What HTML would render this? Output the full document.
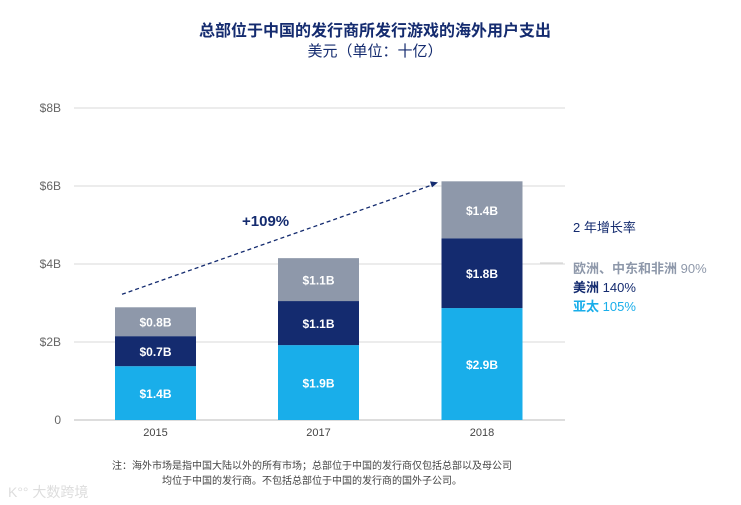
<!DOCTYPE html>
<html><head><meta charset="utf-8"><style>
body{margin:0;background:#fff;font-family:"Liberation Sans","Noto Sans CJK SC",sans-serif;}
#wrap{position:relative;width:741px;height:505px;overflow:hidden;}
</style></head><body>
<div id="wrap">
<svg id="chart" width="741" height="505" xmlns="http://www.w3.org/2000/svg">
<text x="375" y="36" text-anchor="middle" font-size="16" font-weight="bold" fill="#142b6f" font-family="Liberation Sans, Noto Sans CJK SC, sans-serif">总部位于中国的发行商所发行游戏的海外用户支出</text>
<text x="375" y="56" text-anchor="middle" font-size="15" fill="#142b6f" font-family="Liberation Sans, Noto Sans CJK SC, sans-serif">美元（单位：十亿）</text>
<text x="242" y="226" font-size="15" font-weight="bold" fill="#142b6f">+109%</text>
<text x="573" y="232" font-size="13" fill="#142b6f" font-family="Liberation Sans, Noto Sans CJK SC, sans-serif">2 年增长率</text>
<text x="573" y="273" font-size="13" font-family="Liberation Sans, Noto Sans CJK SC, sans-serif"><tspan font-weight="bold" fill="#8e98aa">欧洲、中东和非洲</tspan><tspan fill="#8e98aa"> 90%</tspan></text>
<text x="573" y="292" font-size="13" font-family="Liberation Sans, Noto Sans CJK SC, sans-serif"><tspan font-weight="bold" fill="#142b6f">美洲</tspan><tspan fill="#142b6f"> 140%</tspan></text>
<text x="573" y="311" font-size="13" font-family="Liberation Sans, Noto Sans CJK SC, sans-serif"><tspan font-weight="bold" fill="#19aeea">亚太</tspan><tspan fill="#19aeea"> 105%</tspan></text>
<line x1="540" y1="263" x2="563" y2="263" stroke="#ccc" stroke-width="1"/>
<text x="312" y="469" text-anchor="middle" font-size="10" fill="#444" font-family="Liberation Sans, Noto Sans CJK SC, sans-serif">注：海外市场是指中国大陆以外的所有市场；总部位于中国的发行商仅包括总部以及母公司</text>
<text x="312" y="484" text-anchor="middle" font-size="10" fill="#444" font-family="Liberation Sans, Noto Sans CJK SC, sans-serif">均位于中国的发行商。不包括总部位于中国的发行商的国外子公司。</text>
<text x="8" y="497" font-size="14" fill="#ddd" font-family="Liberation Sans, Noto Sans CJK SC, sans-serif">K°° 大数跨境</text>
</svg>
</div>
<script>
const years=['2015','2017','2018'];
const apac=[1.38,1.92,2.87];
const americas=[0.77,1.13,1.79];
const emea=[0.74,1.10,1.46];
const apacLabels=['$1.4B','$1.9B','$2.9B'];
const americasLabels=['$0.7B','$1.1B','$1.8B'];
const emeaLabels=['$0.8B','$1.1B','$1.4B'];
const yTicks=[0,2,4,6,8];
const yTickLabels=['0','$2B','$4B','$6B','$8B'];
const NS='http://www.w3.org/2000/svg';
const svg=document.getElementById('chart');
const y0=420,pxPer=39,left=74,right=565;
const yS=v=>y0-v*pxPer;
const centers=[155.5,318.5,482];
const xS=i=>centers[i];
const bw=81;
function mk(t,a){const e=document.createElementNS(NS,t);for(const k in a)e.setAttribute(k,a[k]);svg.insertBefore(e,svg.firstChild.nextSibling);return e;}
yTicks.forEach((t,i)=>{
  const l=mk('line',{x1:left,x2:right,y1:yS(t),y2:yS(t),stroke:t===0?'#ddd':'#e6e6e6','stroke-width':t===0?2:1.5});
  
  
  const tx=mk('text',{x:61,y:yS(t)+4,'text-anchor':'end','font-size':12,fill:'#666'});
  tx.textContent=yTickLabels[i];
  
  
});
const series=[[apac,'#19aeea',apacLabels,'apac'],[americas,'#142b6f',americasLabels,'americas'],[emea,'#8e98aa',emeaLabels,'emea']];
const segs=[];
years.forEach((yr,i)=>{
  let base=0;
  series.forEach(s=>{
    const v=s[0][i];
    const r=document.createElementNS(NS,'rect');
    r.setAttribute('x',xS(i)-bw/2);r.setAttribute('y',yS(base+v));r.setAttribute('width',bw);r.setAttribute('height',v*pxPer);r.setAttribute('fill',s[1]);
    
    
    segs.push(r);
    const t=document.createElementNS(NS,'text');
    t.setAttribute('x',xS(i));t.setAttribute('y',yS(base+v/2)+5);t.setAttribute('text-anchor','middle');t.setAttribute('font-size',12);t.setAttribute('font-weight','bold');t.setAttribute('fill','#fff');
    t.textContent=s[2][i];
    
    
    segs.push(t);
    base+=v;
  });
  const xl=document.createElementNS(NS,'text');
  xl.setAttribute('x',xS(i));xl.setAttribute('y',436);xl.setAttribute('text-anchor','middle');xl.setAttribute('font-size',11);xl.setAttribute('fill','#444');
  xl.textContent=yr;
  
  
  segs.push(xl);
});
segs.forEach(e=>svg.appendChild(e));
const t0=apac[0]+americas[0]+emea[0],t2=apac[2]+americas[2]+emea[2];
const ar=document.createElementNS(NS,'line');
ar.setAttribute('x1',122);ar.setAttribute('y1',yS(t0)-13);ar.setAttribute('x2',434);ar.setAttribute('y2',yS(t2)+3);
ar.setAttribute('stroke','#142b6f');ar.setAttribute('stroke-width',1.3);ar.setAttribute('stroke-dasharray','4,3');


svg.appendChild(ar);
const hd=document.createElementNS(NS,'polygon');
const ex=438,ey=yS(t2)+1;
hd.setAttribute('points',`${ex},${ey} ${ex-8},${ey-1} ${ex-6},${ey+5}`);
hd.setAttribute('fill','#142b6f');


svg.appendChild(hd);
</script>
</body></html>
